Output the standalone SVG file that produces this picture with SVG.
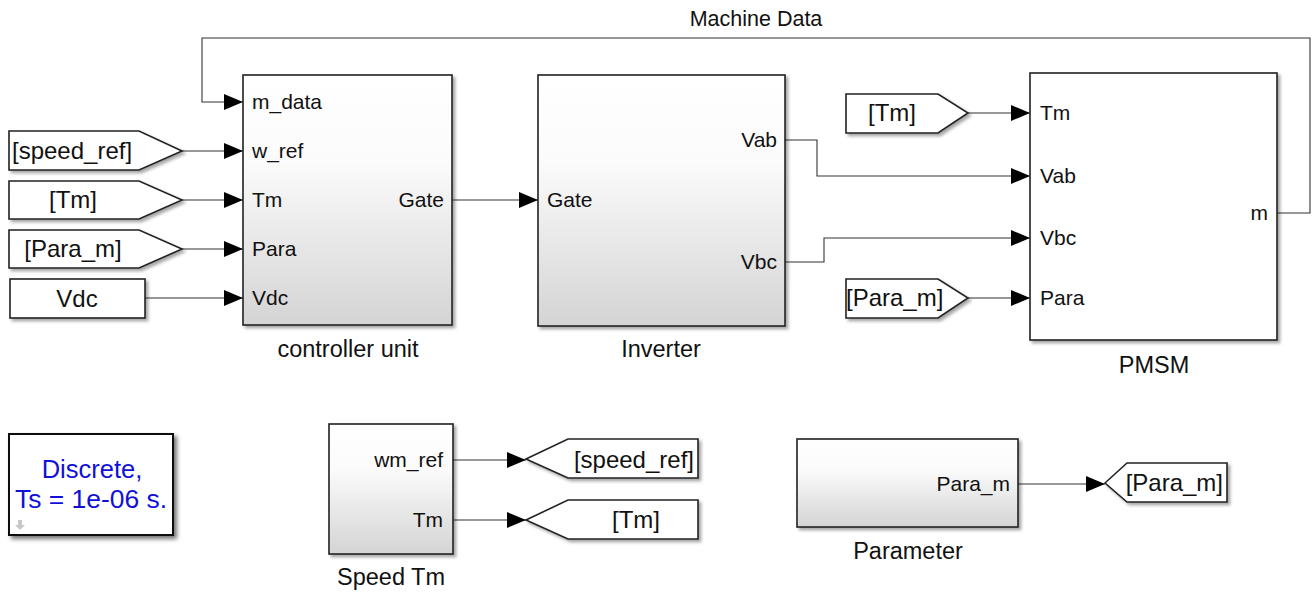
<svg xmlns="http://www.w3.org/2000/svg" width="1312" height="594" viewBox="0 0 1312 594">
  <style>
    text { font-family: "Liberation Sans", Arial, sans-serif; fill: #111; }
    .port { font-size: 21px; }
    .tag { font-size: 24px; }
    .name { font-size: 23.5px; }
    .sub { fill: url(#subFill); stroke: #222; stroke-width: 1.6; filter: url(#shadow); }
    .plain { fill: #fff; stroke: #222; stroke-width: 1.6; filter: url(#shadow); }
    .wire { fill: none; stroke: #333; stroke-width: 1.1; marker-end: url(#arrow); }
    .solver { font-size: 25.5px; fill: #1010d8; }
  </style>
  <defs>
    <linearGradient id="subFill" x1="0" y1="0" x2="0" y2="1">
      <stop offset="0" stop-color="#ffffff"/>
      <stop offset="0.35" stop-color="#fbfbfb"/>
      <stop offset="1" stop-color="#d4d4d4"/>
    </linearGradient>
    <filter id="shadow" x="-10%" y="-10%" width="125%" height="130%">
      <feDropShadow dx="2.5" dy="2.5" stdDeviation="1.5" flood-color="#000" flood-opacity="0.35"/>
    </filter>
    <filter id="shadowStrong" x="-10%" y="-10%" width="125%" height="130%">
      <feDropShadow dx="3" dy="3" stdDeviation="2" flood-color="#000" flood-opacity="0.55"/>
    </filter>
    <marker id="arrow" viewBox="0 0 19 16" refX="19" refY="8" markerWidth="19" markerHeight="16" markerUnits="userSpaceOnUse" orient="auto">
      <path d="M0,0 L19,8 L0,16 Z" fill="#000"/>
    </marker>
  </defs>

  <!-- signal lines -->
  <g id="connectors">
    <path class="wire" d="M1277,213 H1310 V38 H202 V102 H243"/>
    <path class="wire" d="M182,151 H243"/>
    <path class="wire" d="M182,200 H243"/>
    <path class="wire" d="M182,249 H243"/>
    <path class="wire" d="M145,298 H243"/>
    <path class="wire" d="M452,200 H538"/>
    <path class="wire" d="M785,140 H817 V176 H1030"/>
    <path class="wire" d="M785,262 H824 V238 H1030"/>
    <path class="wire" d="M968,113 H1030"/>
    <path class="wire" d="M968,298 H1030"/>
    <path class="wire" d="M453,460 H526"/>
    <path class="wire" d="M453,520 H526"/>
    <path class="wire" d="M1018,484 H1105"/>
  </g>
  <text x="756" y="26" text-anchor="middle" style="font-size:21.5px">Machine Data</text>

  <!-- input tags feeding the controller -->
  <g id="from-speed-ref">
    <polygon class="plain" points="9,131 139,131 182,151 139,170 9,170"/>
    <text class="tag" x="12" y="159">[speed_ref]</text>
  </g>
  <g id="from-tm-1">
    <polygon class="plain" points="9,181 139,181 182,200 139,219 9,219"/>
    <text class="tag" x="73" y="208" text-anchor="middle">[Tm]</text>
  </g>
  <g id="from-para-1">
    <polygon class="plain" points="9,230 139,230 182,249 139,268 9,268"/>
    <text class="tag" x="73" y="257" text-anchor="middle">[Para_m]</text>
  </g>
  <g id="vdc">
    <rect class="plain" x="10" y="279" width="135" height="39"/>
    <text class="tag" x="77" y="307" text-anchor="middle">Vdc</text>
  </g>

  <!-- controller unit -->
  <g id="controller-unit">
    <rect class="sub" x="243" y="75" width="209" height="250"/>
    <text class="port" x="252" y="109">m_data</text>
    <text class="port" x="252" y="158">w_ref</text>
    <text class="port" x="252" y="207">Tm</text>
    <text class="port" x="252" y="256">Para</text>
    <text class="port" x="252" y="305">Vdc</text>
    <text class="port" x="444" y="207" text-anchor="end">Gate</text>
    <text class="name" x="348" y="357" text-anchor="middle">controller unit</text>
  </g>

  <!-- inverter -->
  <g id="inverter">
    <rect class="sub" x="538" y="75" width="247" height="251"/>
    <text class="port" x="547" y="207">Gate</text>
    <text class="port" x="777" y="147" text-anchor="end">Vab</text>
    <text class="port" x="777" y="269" text-anchor="end">Vbc</text>
    <text class="name" x="661" y="357" text-anchor="middle">Inverter</text>
  </g>

  <!-- machine -->
  <g id="from-tm-2">
    <polygon class="plain" points="846,94 938,94 968,113 938,133 846,133"/>
    <text class="tag" x="892" y="121" text-anchor="middle">[Tm]</text>
  </g>
  <g id="from-para-2">
    <polygon class="plain" points="846,279 938,279 968,298 938,318 846,318"/>
    <text class="tag" x="846" y="306">[Para_m]</text>
  </g>
  <g id="pmsm">
    <rect class="plain" x="1030" y="73" width="247" height="267"/>
    <text class="port" x="1040" y="120">Tm</text>
    <text class="port" x="1040" y="183">Vab</text>
    <text class="port" x="1040" y="245">Vbc</text>
    <text class="port" x="1040" y="305">Para</text>
    <text class="port" x="1268" y="220" text-anchor="end">m</text>
    <text class="name" x="1154" y="373" text-anchor="middle">PMSM</text>
  </g>

  <!-- solver settings -->
  <g id="powergui">
    <rect x="9" y="434" width="164" height="101" fill="#fff" stroke="#111" stroke-width="2" filter="url(#shadowStrong)"/>
    <text class="solver" x="92" y="478" text-anchor="middle">Discrete,</text>
    <text class="solver" x="91" y="508" text-anchor="middle" textLength="152" lengthAdjust="spacingAndGlyphs">Ts = 1e-06 s.</text>
    <path d="M18,520 h4 v5 h3 l-5,5 l-5,-5 h3 Z" fill="#c8c8c8"/>
  </g>

  <!-- speed / torque references -->
  <g id="speed-tm">
    <rect class="sub" x="329" y="424" width="124" height="130"/>
    <text class="port" x="443" y="467" text-anchor="end">wm_ref</text>
    <text class="port" x="443" y="527" text-anchor="end">Tm</text>
    <text class="name" x="391" y="585" text-anchor="middle">Speed Tm</text>
  </g>
  <g id="goto-speed-ref">
    <polygon class="plain" points="526,459 568,439 698,439 698,478 568,478"/>
    <text class="tag" x="694" y="468" text-anchor="end">[speed_ref]</text>
  </g>
  <g id="goto-tm">
    <polygon class="plain" points="526,520 568,500 698,500 698,539 568,539"/>
    <text class="tag" x="636" y="528" text-anchor="middle">[Tm]</text>
  </g>

  <!-- motor parameters -->
  <g id="parameter">
    <rect class="sub" x="797" y="439" width="221" height="88"/>
    <text class="port" x="1010" y="491" text-anchor="end">Para_m</text>
    <text class="name" x="908" y="559" text-anchor="middle">Parameter</text>
  </g>
  <g id="goto-para">
    <polygon class="plain" points="1105,483 1127,463 1227,463 1227,502 1127,502"/>
    <text class="tag" x="1223" y="491" text-anchor="end">[Para_m]</text>
  </g>
</svg>
